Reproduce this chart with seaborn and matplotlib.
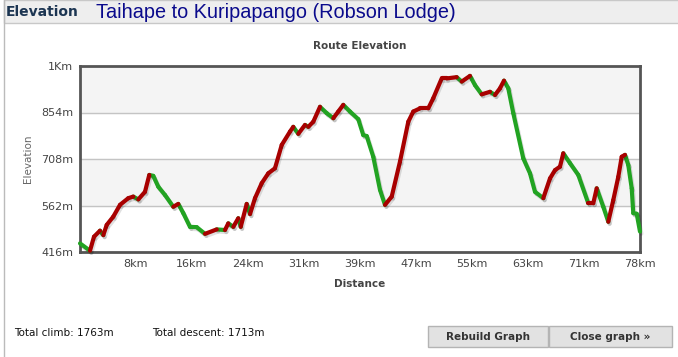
import matplotlib
matplotlib.use('Agg')
import matplotlib.pyplot as plt
import matplotlib.patheffects as pe
from matplotlib.patches import Rectangle
import seaborn as sns
import pandas as pd
import numpy as np

# route profile (km, m)
dist_km = [0.0, 1.4, 1.96, 2.8, 3.26, 3.74, 4.66, 5.6, 6.76, 7.46, 8.16, 9.1, 9.7,
           10.26, 10.96, 11.9, 13.06, 13.76, 14.46, 15.4, 16.34, 17.5, 19.14, 20.3,
           20.76, 21.46, 22.16, 22.5, 23.34, 23.8, 24.5, 25.44, 26.36, 27.3, 28.24,
           29.4, 29.86, 30.56, 31.5, 31.96, 32.66, 33.6, 34.54, 35.46, 36.16, 36.86,
           37.8, 38.96, 39.66, 40.14, 41.06, 42.0, 42.7, 43.64, 44.8, 45.96, 46.66,
           47.6, 48.76, 49.46, 50.64, 51.34, 52.74, 53.44, 54.6, 55.3, 56.24, 57.4,
           58.1, 58.8, 59.36, 59.96, 60.66, 62.06, 63.0, 63.7, 64.86, 65.8, 66.5,
           67.2, 67.66, 68.6, 69.76, 71.16, 71.86, 72.34, 73.26, 73.96, 74.66, 75.36,
           75.84, 76.3, 76.76, 77.24, 77.46, 77.94, 78.4]
elev_m = [443, 420, 464, 483, 469, 501, 527, 564, 585, 590, 581, 605, 658,
          655, 621, 595, 558, 567, 538, 495, 494, 473, 487, 485,
          506, 495, 522, 495, 567, 535, 585, 632, 663, 679, 752,
          794, 809, 787, 815, 809, 825, 872, 852, 836, 857, 878,
          857, 833, 783, 780, 715, 611, 564, 590, 700, 825, 857,
          867, 867, 899, 961, 961, 965, 951, 969, 940, 911, 919,
          909, 930, 954, 930, 852, 710, 663, 605, 585, 647, 673,
          684, 726, 695, 658, 569, 569, 616, 558, 511, 579, 652,
          715, 721, 689, 616, 538, 536, 480]

total_km = 78.4
xtick_labels = ['8km', '16km', '24km', '31km', '39km', '47km', '55km', '63km', '71km', '78km']
ytick_vals = [416, 562, 708, 854, 1000]
ytick_labels = ['416m', '562m', '708m', '854m', '1Km']

# split into segments, coloured by climb / descent
rows = []
for i in range(len(dist_km) - 1):
    d = 'up' if elev_m[i + 1] >= elev_m[i] else 'down'
    rows.append((i, dist_km[i], elev_m[i], d))
    rows.append((i, dist_km[i + 1], elev_m[i + 1], d))
df = pd.DataFrame(rows, columns=['seg', 'km', 'm', 'dir'])

W, H = 678, 357
fig = plt.figure(figsize=(W / 100, H / 100), dpi=100)
fig.patch.set_facecolor('white')

# header bar
fig.patches.append(Rectangle((4 / W, 1 - 23 / H), 1, 23 / H, transform=fig.transFigure,
                             facecolor='#eeeeee', edgecolor='#c8c8c8', lw=1))
fig.add_artist(plt.Line2D([4 / W, 4 / W], [0, 1], color='#bbbbbb', lw=1))
fig.text(6 / W, 1 - 12 / H, 'Elevation', fontsize=10, fontweight='bold',
         color='#1c3552', va='center', ha='left')
fig.text(96 / W, 1 - 13 / H, 'Taihape to Kuripapango (Robson Lodge)', fontsize=14.3,
         family='Liberation Sans', color='#0a0a8c', va='center', ha='left')

ax = fig.add_axes([80 / W, (H - 252) / H, 560 / W, 186 / H])
ax.set_facecolor('white')
ax.axhspan(854, 1000, color='#f4f4f4', zorder=0)
ax.axhspan(562, 708, color='#f4f4f4', zorder=0)
for v in [562, 708, 854]:
    ax.axhline(v, color='#c4c4c4', lw=1, zorder=1)

sns.lineplot(data=df, x='km', y='m', units='seg', hue='dir', estimator=None,
             palette={'up': '#a80000', 'down': '#22a322'}, lw=3.0, legend=False,
             ax=ax, solid_capstyle='round', zorder=3, clip_on=False,
             path_effects=[pe.SimpleLineShadow(offset=(1, -1.5), alpha=0.12), pe.Normal()])

ax.set_xlim(0, total_km)
ax.set_ylim(416, 1000)
ax.set_xticks([total_km * k / 10 for k in range(1, 11)])
ax.set_xticklabels(xtick_labels)
ax.set_yticks(ytick_vals)
ax.set_yticklabels(ytick_labels)
ax.tick_params(length=0, labelsize=8, labelcolor='#444444', pad=5)
for s in ax.spines.values():
    s.set_color('#555555')
    s.set_linewidth(2)
    s.set_zorder(2)
ax.set_xlabel('Distance', fontsize=7.5, fontweight='bold', color='#444444', labelpad=7)
ax.set_ylabel('Elevation', fontsize=7.5, color='#666666', labelpad=6)
ax.set_title('Route Elevation', fontsize=7.5, fontweight='bold', color='#444444', pad=12)

# footer
fig.text(14 / W, 1 - 333 / H, 'Total climb: 1763m', fontsize=7.5, va='center', color='#111111')
fig.text(152 / W, 1 - 333 / H, 'Total descent: 1713m', fontsize=7.5, va='center', color='#111111')
for x0, x1, lab in [(428, 548, 'Rebuild Graph'), (549, 672, 'Close graph \u00bb')]:
    fig.patches.append(Rectangle((x0 / W, 1 - 347 / H), (x1 - x0) / W, 21 / H,
                                 transform=fig.transFigure, facecolor='#e2e2e2',
                                 edgecolor='#b4b4b4', lw=1))
    fig.text((x0 + x1) / 2 / W, 1 - 337 / H, lab, fontsize=7.5, fontweight='bold',
             color='#333333', ha='center', va='center')

fig.savefig('out.png', dpi=100)
